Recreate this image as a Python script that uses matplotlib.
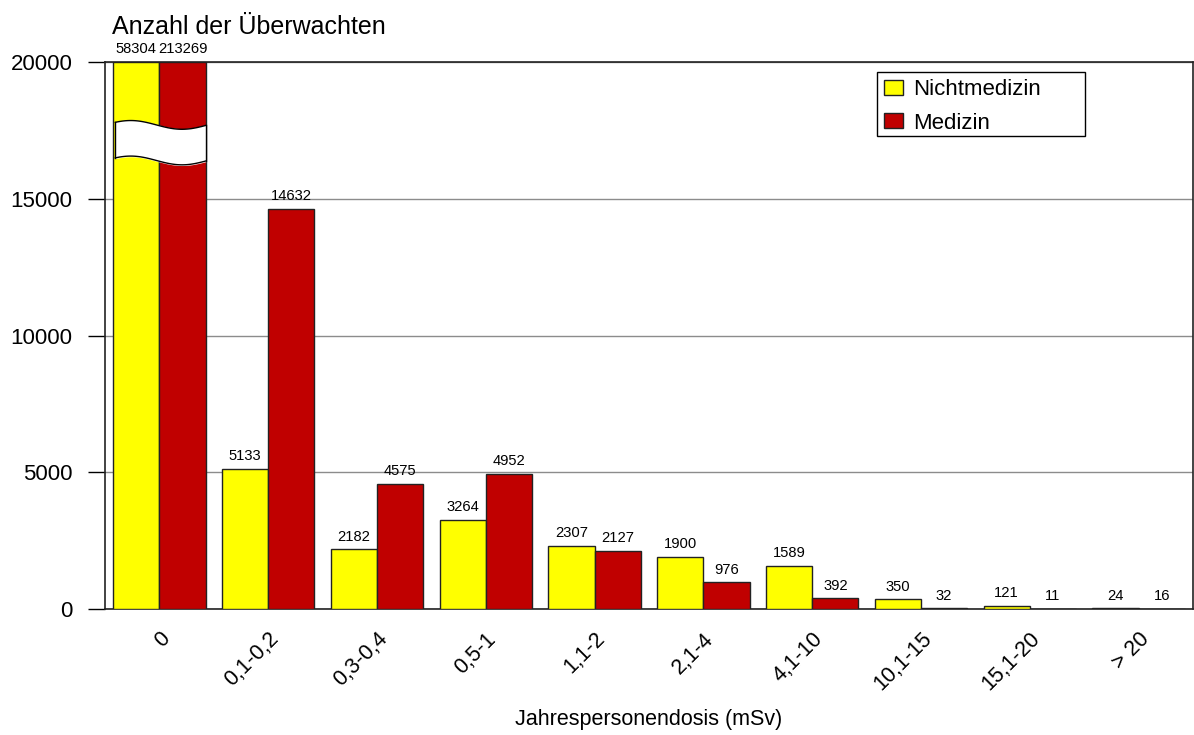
import numpy as np
import matplotlib
matplotlib.use("Agg")
import matplotlib.pyplot as plt
from matplotlib.patches import Rectangle

plt.rcParams['font.family'] = ['Liberation Sans', 'DejaVu Sans']

categories = ["0", "0,1-0,2", "0,3-0,4", "0,5-1", "1,1-2", "2,1-4", "4,1-10", "10,1-15", "15,1-20", "> 20"]
nichtmedizin = [58304, 5133, 2182, 3264, 2307, 1900, 1589, 350, 121, 24]
medizin = [213269, 14632, 4575, 4952, 2127, 976, 392, 32, 11, 16]
y_max = 20000
y_ticks = [0, 5000, 10000, 15000, 20000]

W, H = 1194, 735
fig = plt.figure(figsize=(W / 100, H / 100), dpi=100)
ax = fig.add_axes([105 / W, (H - 609) / H, (1193 - 105) / W, (609 - 62) / H])

x = np.arange(len(categories))
bw = 0.425
ny = np.minimum(nichtmedizin, y_max)
my = np.minimum(medizin, y_max)
ax.bar(x - bw / 2, ny, bw, color='#FFFF00', edgecolor='#222222', linewidth=1, label='Nichtmedizin', zorder=3)
ax.bar(x + bw / 2, my, bw, color='#C00000', edgecolor='#222222', linewidth=1, label='Medizin', zorder=3)

# value labels
for xi, v in zip(x - bw / 2, nichtmedizin):
    ax.annotate(str(v), (xi, min(v, y_max)), xytext=(0, 4), textcoords='offset points',
                ha='center', va='bottom', fontsize=10.6, annotation_clip=False)
for xi, v in zip(x + bw / 2, medizin):
    ax.annotate(str(v), (xi, min(v, y_max)), xytext=(0, 4), textcoords='offset points',
                ha='center', va='bottom', fontsize=10.6, annotation_clip=False)

# axis break on the first (clipped) group
xs = np.linspace(-bw + 0.02, bw, 60)
wave = 160 * np.sin((xs + bw) / (2 * bw) * 2 * np.pi * 0.9 + 0.5)
top = 17700 + wave
bot = 16400 + wave
ax.fill_between(xs, bot, top, color='white', zorder=4)
ax.plot(xs, top, color='black', lw=1, zorder=5)
ax.plot(xs, bot, color='black', lw=1, zorder=5)
ax.plot([xs[0], xs[0]], [bot[0], top[0]], color='black', lw=1, zorder=5)
ax.plot([xs[-1], xs[-1]], [bot[-1], top[-1]], color='black', lw=1, zorder=5)

ax.set_xlim(-0.5, len(categories) - 0.5)
ax.set_ylim(0, y_max)
ax.set_yticks(y_ticks)
ax.set_yticklabels([str(t) for t in y_ticks], fontsize=16)
ax.tick_params(axis='y', length=12, width=1, direction='out', pad=11.5)
ax.set_xticks(x)
ax.set_xticklabels(categories, rotation=45, ha='right', rotation_mode='anchor', fontsize=15.5)
ax.tick_params(axis='x', length=0, pad=14)
ax.yaxis.grid(True, color='#8c8c8c', linewidth=1, zorder=0)
ax.set_axisbelow(True)
for s in ax.spines.values():
    s.set_color('#222222')
    s.set_linewidth(1.2)

ax.set_xlabel("Jahrespersonendosis (mSv)", fontsize=15.5)
ax.xaxis.set_label_coords(0.5, -(720 - 609) / (609 - 62))
ax.xaxis.label.set_va('center')
fig.text(112 / W, 1 - 27 / H, "Anzahl der Überwachten", fontsize=18, va='center', ha='left')

# legend with a wider frame like the original
ax.add_patch(Rectangle((877 / W, 1 - 136 / H), 208 / W, 64 / H, transform=fig.transFigure,
                       facecolor='white', edgecolor='black', linewidth=1, zorder=10, clip_on=False))
leg = ax.legend(loc='upper left', bbox_to_anchor=(880 / W, 1 - 75 / H), bbox_transform=fig.transFigure,
                fontsize=16, frameon=False,
                handlelength=0.85, handleheight=0.65, borderpad=0.2, labelspacing=0.55, handletextpad=0.45,
                borderaxespad=0)
leg.set_zorder(11)

fig.savefig("out.png", dpi=100)
